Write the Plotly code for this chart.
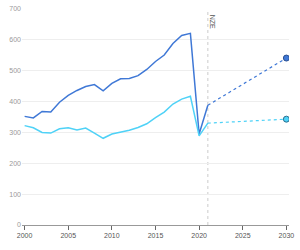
import plotly.graph_objects as go

years_hist = list(range(2000, 2022))
dark_hist = [352, 347, 368, 366, 398, 420, 436, 449, 455, 435, 459, 474, 475, 484, 504,
             530, 551, 588, 614, 621, 295, 388]
light_hist = [322, 315, 300, 298, 312, 315, 308, 314, 298, 281, 295, 301, 307, 316, 328,
              348, 366, 392, 408, 417, 289, 330]
years_proj = [2021, 2030]
dark_proj = [388, 541]
light_proj = [330, 343]

dark_col = "#3f78d6"
light_col = "#4fd2f7"

fig = go.Figure()
fig.add_trace(go.Scatter(x=years_hist, y=dark_hist, mode="lines",
                         line=dict(color=dark_col, width=1.5)))
fig.add_trace(go.Scatter(x=years_hist, y=light_hist, mode="lines",
                         line=dict(color=light_col, width=1.5)))
fig.add_trace(go.Scatter(x=years_proj, y=dark_proj, mode="lines",
                         line=dict(color=dark_col, width=1.2, dash="dot")))
fig.add_trace(go.Scatter(x=years_proj, y=light_proj, mode="lines",
                         line=dict(color=light_col, width=1.2, dash="dot")))
fig.add_trace(go.Scatter(x=[years_proj[-1]], y=[dark_proj[-1]], mode="markers",
                         marker=dict(color=dark_col, size=6, line=dict(color="#2a4f8f", width=1))))
fig.add_trace(go.Scatter(x=[years_proj[-1]], y=[light_proj[-1]], mode="markers",
                         marker=dict(color=light_col, size=6, line=dict(color="#2a6f8f", width=1))))

fig.add_shape(type="line", x0=2021, x1=2021, y0=0, y1=700, xref="x", yref="y",
              line=dict(color="#cccccc", width=1, dash="dot"), layer="below")
fig.add_annotation(x=2021, y=700, xref="x", yref="y", text="NZE", textangle=90,
                   showarrow=False, xanchor="left", yanchor="top", xshift=0, yshift=-4,
                   font=dict(size=7, color="#555555", family="Arial"))

fig.update_layout(
    width=300, height=250,
    margin=dict(l=22, r=11, t=5, b=25),
    paper_bgcolor="white", plot_bgcolor="white",
    showlegend=False,
    font=dict(family="Arial", size=7, color="#999999"),
    xaxis=dict(range=[1999.7, 2030.3], tickmode="array",
               tickvals=[2000, 2005, 2010, 2015, 2020, 2025, 2030],
               showgrid=False, showline=True, linecolor="#999999", linewidth=1,
               ticks="outside", ticklen=4, tickcolor="#666666",
               tickfont=dict(size=7, color="#555555"), zeroline=False),
    yaxis=dict(range=[0, 700], tickvals=[0, 100, 200, 300, 400, 500, 600, 700],
               showgrid=True, gridcolor="#eeeeee", gridwidth=1, zeroline=False,
               showline=False, ticks="", tickfont=dict(size=7, color="#999999")),
)
fig.write_html("out.html")
